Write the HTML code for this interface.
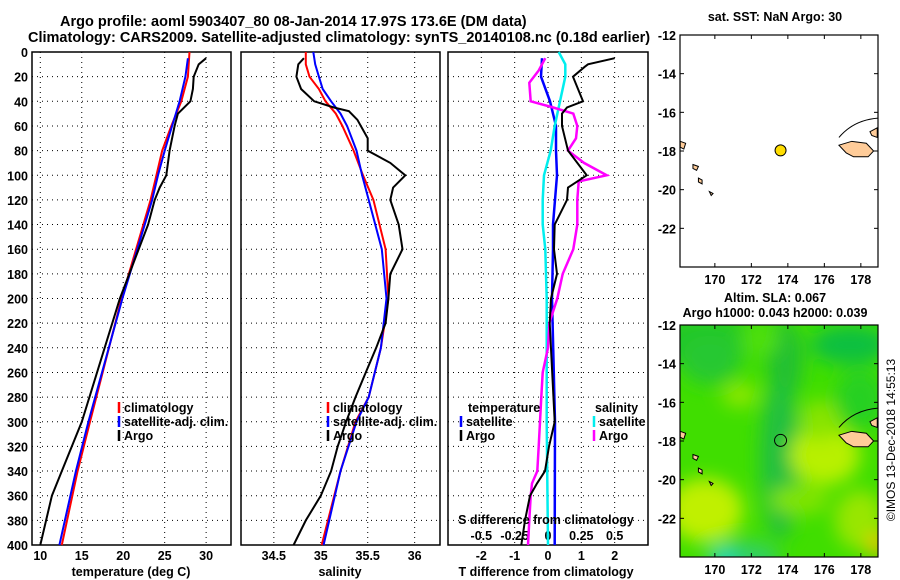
<!DOCTYPE html>
<html><head><meta charset="utf-8"><style>
body{margin:0;background:#fff;}
svg{display:block;font-family:"Liberation Sans",sans-serif;font-weight:bold;}
</style></head><body>
<svg id="fig" width="900" height="580" viewBox="0 0 900 580">
<defs>
<clipPath id="mclip"><rect x="680" y="325" width="198" height="232"/></clipPath>
<filter id="blur" x="-20%" y="-20%" width="140%" height="140%"><feGaussianBlur stdDeviation="9"/></filter>
</defs>
<text x="60" y="26" font-size="14.5">Argo profile: aoml 5903407_80 08-Jan-2014 17.97S 173.6E (DM data)</text>
<text x="28" y="42" font-size="14.5">Climatology: CARS2009. Satellite-adjusted climatology: synTS_20140108.nc (0.18d earlier)</text>
<g id="g"></g>
</svg>
<script>
// depth levels (m)
const tDepth=[5,10,20,30,40,50,60,80,100,110,120,140,200,300,340,360,400];
const tArgo=[30.0,29.1,28.5,28.4,28.1,26.6,26.2,25.6,25.2,24.4,23.8,23.0,19.6,15.0,12.6,11.4,10.0];
const cDepth=[0,20,40,60,80,100,120,200,300,340,400];
const tClim=[28.0,27.8,27.0,25.8,24.7,24.0,23.3,19.8,16.0,14.5,12.6];
const sDepth=[5,20,40,60,80,100,120,200,300,340,400];
const tSat=[27.8,27.5,26.8,25.9,25.0,24.2,23.5,19.9,15.8,14.3,12.3];
const saDepth=[5,10,20,30,40,45,48,55,70,80,90,100,110,120,140,160,180,200,220,240,260,280,300,320,340,360,380,400];
const sArgo=[34.82,34.76,34.74,34.79,34.93,35.14,35.30,35.39,35.50,35.50,35.74,35.90,35.77,35.74,35.83,35.87,35.74,35.72,35.69,35.59,35.48,35.37,35.27,35.18,35.11,35.00,34.84,34.71];
const scDepth=[0,10,20,30,40,50,60,80,100,120,160,200,240,280,300,340,400];
const sClim=[34.84,34.84,34.88,34.98,35.05,35.16,35.23,35.35,35.45,35.56,35.69,35.72,35.64,35.51,35.37,35.21,35.01];
const sSat=[34.92,34.94,34.98,35.02,35.11,35.21,35.28,35.38,35.44,35.51,35.65,35.70,35.64,35.51,35.38,35.21,35.03];
const dtDepth=[5,10,12,20,40,45,50,60,70,80,100,110,120,140,160,180,200,220,300,320,340,350,360,380,400];
const dtArgo=[2.0,1.2,1.1,0.75,1.05,0.57,0.42,0.42,0.51,0.6,1.16,0.6,0.57,0.2,0.18,0.27,0.09,0.05,0.2,0.03,-0.09,-0.33,-0.54,-0.69,-0.8];
const dsDepth=[5,20,40,60,80,100,120,140,160,200,300,400];
const dtSat=[-0.18,-0.21,0.06,0.24,0.24,0.27,0.21,0.15,0.15,0.12,0.21,0.2];
const dsaDepth=[5,15,25,40,45,50,60,70,80,90,100,105,120,140,160,180,200,220,240,260,280,300,320,340,350,360,380,400];
const dsArgo=[-0.02,-0.07,-0.14,-0.13,0.04,0.19,0.22,0.21,0.15,0.27,0.44,0.23,0.22,0.22,0.19,0.11,0.07,0.01,0.0,-0.04,-0.05,-0.06,-0.07,-0.08,-0.12,-0.13,-0.14,-0.15];
const dscDepth=[0,10,20,40,60,80,100,120,140,160,200,300,400];
const dsSat=[0.08,0.13,0.13,0.09,0.05,0.02,-0.03,-0.04,-0.04,-0.02,-0.01,-0.01,0.0];
const depthTicks=[0,20,40,60,80,100,120,140,160,180,200,220,240,260,280,300,320,340,360,380,400];
const tTicks=[10,15,20,25,30];
const sTicks=[34.5,35,35.5,36];
const dTTicks=[-2,-1,0,1,2];
const dSTicks=[-0.5,-0.25,0,0.25,0.5];
const lonTicks=[170,172,174,176,178];
const latTicks=[-12,-14,-16,-18,-20,-22];
const argoLon=173.6, argoLat=-17.97;

const NS="http://www.w3.org/2000/svg";
const G=document.getElementById('g');
function mk(tag,at,parent){const e=document.createElementNS(NS,tag);for(const k in at)e.setAttribute(k,at[k]);(parent||G).appendChild(e);return e;}
const Y0=52,Y1=545;
const yD=d=>Y0+(Y1-Y0)*d/400;
function lin(d0,d1,r0,r1){return v=>r0+(v-d0)*(r1-r0)/(d1-d0);}
const xT=lin(9,33,32,231), xS=lin(34.15,36.27,241,440), xDT=lin(-3,3,448,648), xDS=lin(-0.75,0.75,448,648);

function panel(x0,x1,xf,ticks,labels,name){
  const f=mk('rect',{x:x0,y:Y0,width:x1-x0,height:Y1-Y0,fill:'none',stroke:'#000','stroke-width':1.5});
  
  
  depthTicks.forEach(d=>{if(d>0&&d<400){const l=mk('line',{x1:x0,x2:x1,y1:yD(d),y2:yD(d),stroke:'#000','stroke-dasharray':'1,4'});
    
    }});
  ticks.forEach(v=>{const x=xf(v);const l=mk('line',{x1:x,x2:x,y1:Y0,y2:Y1,stroke:'#000','stroke-dasharray':'1,4'});
    
    });
  if(labels) ticks.forEach((v,i)=>{const t=mk('text',{x:xf(v),y:560,'font-size':12.5,'text-anchor':'middle'});t.textContent=labels[i];
    
    });
}
function series(depths,vals,xf,color,w,name){
  const p=mk('polyline',{points:depths.map((d,i)=>xf(vals[i]).toFixed(1)+','+yD(d).toFixed(1)).join(' '),fill:'none',stroke:color,'stroke-width':w});
  
  
}
function txt(s,x,y,size,anchor,name,extra){const t=mk('text',Object.assign({x:x,y:y,'font-size':size,'text-anchor':anchor||'start'},extra||{}));t.textContent=s;
  
  return t;}
function legItem(x,y,color,label,name){
  const l=mk('line',{x1:x,x2:x,y1:y-10,y2:y+1,stroke:color,'stroke-width':2.5});
  
  
  txt(label,x+5,y,12.5,'start',name);
}

// panel 1
panel(32,231,xT,tTicks,tTicks.map(String),'temperature-panel');
depthTicks.forEach(d=>txt(String(d),28,yD(d)+5,12.5,'end','depth-tick-label'));
series(cDepth,tClim,xT,'#f00',2,'temperature-climatology-line');
series(sDepth,tSat,xT,'#00f',2,'temperature-satellite-line');
series(tDepth,tArgo,xT,'#000',2,'temperature-argo-line');
txt('temperature (deg C)',131,576,12.5,'middle','temperature-x-axis-title');
legItem(119,412,'#f00','climatology','legend-climatology');
legItem(119,426,'#00f','satellite-adj. clim.','legend-satellite');
legItem(119,440,'#000','Argo','legend-argo');

// panel 2
panel(241,440,xS,sTicks,sTicks.map(String),'salinity-panel');
series(scDepth,sClim,xS,'#f00',2,'salinity-climatology-line');
series(scDepth,sSat,xS,'#00f',2,'salinity-satellite-line');
series(saDepth,sArgo,xS,'#000',2,'salinity-argo-line');
txt('salinity',340,576,12.5,'middle','salinity-x-axis-title');
legItem(328,412,'#f00','climatology','legend-climatology-2');
legItem(328,426,'#00f','satellite-adj. clim.','legend-satellite-2');
legItem(328,440,'#000','Argo','legend-argo-2');

// panel 3
panel(448,648,xDT,dTTicks,dTTicks.map(String),'difference-panel');
dSTicks.forEach(v=>txt(String(v),xDS(v),540,12.5,'middle','s-tick-label'));
series(dsDepth,dtSat,xDT,'#00f',2.5,'t-diff-satellite-line');
series(dscDepth,dsSat,xDS,'#0ee',2.5,'s-diff-satellite-line');
series(dsaDepth,dsArgo,xDS,'#f0f',2.5,'s-diff-argo-line');
series(dtDepth,dtArgo,xDT,'#000',2,'t-diff-argo-line');
txt('S difference from climatology',546,524,12.5,'middle','s-axis-title');
txt('T difference from climatology',546,576,12.5,'middle','t-axis-title');
txt('temperature',468,412,12.5,'start','legend-temperature-heading');
legItem(461,426,'#00f','satellite','legend-t-satellite');
legItem(461,440,'#000','Argo','legend-t-argo');
txt('salinity',595,412,12.5,'start','legend-salinity-heading');
legItem(594,426,'#0ee','satellite','legend-s-satellite');
legItem(594,440,'#f0f','Argo','legend-s-argo');

// maps
const xLon=lin(168.09,178.94,680,878);
const yLat1=lin(-12,-24,35,267), yLat2=lin(-12,-24,325,557);
function islands(yL,grp){
  const shapes=[[[176.8,-17.7],[177.5,-17.5],[178.3,-17.6],[178.7,-18.0],[178.4,-18.3],[177.6,-18.3],[177.2,-18.1]],
    [[178.5,-17.0],[178.9,-16.8],[178.9,-17.3],[178.6,-17.2]],
    [[168.8,-18.7],[169.1,-18.8],[169.0,-19.0],[168.8,-18.9]],
    [[169.1,-19.4],[169.3,-19.5],[169.3,-19.7],[169.1,-19.6]],
    [[168.1,-17.5],[168.4,-17.6],[168.3,-17.9],[168.1,-17.8]],
    [[169.7,-20.1],[169.9,-20.2],[169.8,-20.3]]];
  shapes.forEach(s=>{const p=mk('polygon',{points:s.map(c=>xLon(c[0])+','+yL(c[1])).join(' '),fill:'#fc9',stroke:'#000','stroke-width':1},grp);
    
    });
  const r=mk('path',{d:`M${xLon(176.8)},${yL(-17.3)} Q${xLon(177.6)},${yL(-16.4)} ${xLon(178.94)},${yL(-16.3)}`,fill:'none',stroke:'#000','stroke-width':1},grp);
  
  
}
function mapAxes(yL,top,name){
  const f=mk('rect',{x:680,y:top,width:198,height:232,fill:'none',stroke:'#000','stroke-width':1.2});
  
  
  latTicks.forEach(v=>{txt(String(v),676,yL(v)+5,12.5,'end',name+'-lat-label');
    mk('line',{x1:680,x2:684,y1:yL(v),y2:yL(v),stroke:'#000'});mk('line',{x1:874,x2:878,y1:yL(v),y2:yL(v),stroke:'#000'});});
  lonTicks.forEach(v=>{txt(String(v),xLon(v),top+249,12.5,'middle',name+'-lon-label');
    mk('line',{x1:xLon(v),x2:xLon(v),y1:top,y2:top+4,stroke:'#000'});mk('line',{x1:xLon(v),x2:xLon(v),y1:top+228,y2:top+232,stroke:'#000'});});
}
// map 1
txt('sat. SST: NaN Argo: 30',775,21,12.5,'middle','sst-map-title');
const m1=mk('g',{});
islands(yLat1,m1);
mapAxes(yLat1,35,'sst-map');
const dot=mk('circle',{cx:xLon(argoLon),cy:yLat1(argoLat),r:5.5,fill:'#fd0',stroke:'#000'});



// map 2 (SLA)
txt('Altim. SLA: 0.067',775,302,12.5,'middle','sla-map-title');
txt('Argo h1000: 0.043 h2000: 0.039',775,317,12.5,'middle','sla-map-subtitle');
const m2=mk('g',{'clip-path':'url(#mclip)'});
mk('rect',{x:680,y:325,width:198,height:232,fill:'#40de00'},m2);
const hb=mk('g',{filter:'url(#blur)'},m2);
[[700,340,60,25,'#22c828'],[710,360,30,25,'#28c830'],[785,360,18,40,'#22c030'],[780,460,20,80,'#20c040'],[850,345,40,20,'#10c040'],[860,400,25,30,'#28d020'],
 [740,395,18,12,'#90e800'],[825,455,35,30,'#b8f000'],[705,510,38,32,'#c0f000'],[800,500,30,15,'#80e400'],[860,520,25,30,'#98e600'],
 [745,560,35,20,'#30d060'],[722,557,14,10,'#20d8c0'],[878,545,10,12,'#f0c000'],[820,420,20,20,'#88e400'],[760,340,20,15,'#50e010']]
 .forEach(e=>mk('ellipse',{cx:e[0],cy:e[1],rx:e[2],ry:e[3],fill:e[4]},hb));
islands(yLat2,m2);
mapAxes(yLat2,325,'sla-map');
const c2=mk('circle',{cx:xLon(argoLon),cy:yLat2(argoLat),r:6,fill:'none',stroke:'#000'});


txt('©IMOS 13-Dec-2018 14:55:13',895,440,12,'middle','imos-timestamp',{transform:'rotate(-90 895 440)','font-weight':'normal'});
</script>
</body></html>
